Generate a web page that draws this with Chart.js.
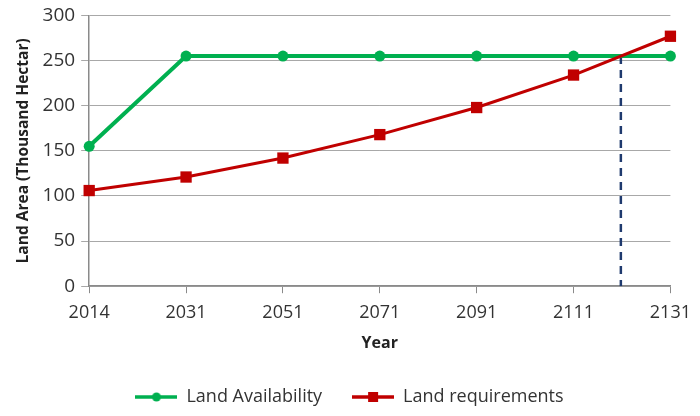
<!DOCTYPE html>
<html>
<head>
  <title>Land availability vs requirements</title>
  <script src="https://cdn.jsdelivr.net/npm/chart.js@4/dist/chart.umd.min.js"></script>
  <style>
    body { margin: 0; background: #fff; }
    #wrap { width: 700px; height: 416px; }
  </style>
</head>
<body>
  <div id="wrap"><canvas id="chartCanvas"></canvas></div>

  <script>
    const years = ['2014', '2031', '2051', '2071', '2091', '2111', '2131'];
    const availability = [155, 255, 255, 255, 255, 255, 255];
    const requirements = [106, 121, 142, 168, 198, 234, 277];
    const yTicks = [0, 50, 100, 150, 200, 250, 300];

    const GREEN = '#00b050';
    const RED = '#c00000';
    const NAVY = '#1f3a6e';

    // where requirements overtake availability (from the data)
    function crossing() {
      for (let i = 0; i < years.length - 1; i++) {
        const d0 = requirements[i] - availability[i];
        const d1 = requirements[i + 1] - availability[i + 1];
        if (d0 < 0 && d1 >= 0) {
          const t = -d0 / (d1 - d0);
          return { x: i + t, y: availability[i] + t * (availability[i + 1] - availability[i]) };
        }
      }
      return null;
    }
    const cross = crossing();

    function legendIcon(color, shape) {
      const c = document.createElement('canvas');
      c.width = 42; c.height = 14;
      const g = c.getContext('2d');
      g.strokeStyle = color;
      g.lineWidth = 3.5;
      g.beginPath(); g.moveTo(0, 7); g.lineTo(42, 7); g.stroke();
      g.fillStyle = color;
      if (shape === 'circle') {
        g.beginPath(); g.arc(21, 7, 4.5, 0, Math.PI * 2); g.fill();
      } else {
        g.fillRect(16, 2, 10, 10);
      }
      return c;
    }
    const icons = [legendIcon(GREEN, 'circle'), legendIcon(RED, 'rect')];

    const ctx = document.getElementById('chartCanvas').getContext('2d');
    new Chart(ctx, {
      type: 'line',
      data: {
        datasets: [
          {
            label: 'Land Availability',
            data: availability.map((v, i) => ({ x: i, y: v })),
            borderColor: GREEN,
            backgroundColor: GREEN,
            borderWidth: 4,
            pointStyle: 'circle',
            pointRadius: 5.5,
            pointBorderWidth: 0,
            pointHoverRadius: 5.5,
            clip: false,
            order: 2
          },
          {
            label: 'Land requirements',
            data: requirements.map((v, i) => ({ x: i, y: v })),
            borderColor: RED,
            backgroundColor: RED,
            borderWidth: 3,
            pointStyle: 'rect',
            pointRadius: 8,
            pointBorderWidth: 0,
            pointHoverRadius: 8,
            clip: false,
            order: 1
          },
          {
            label: 'crossing',
            data: cross ? [{ x: cross.x, y: cross.y }, { x: cross.x, y: 0 }] : [],
            borderColor: NAVY,
            borderWidth: 2.5,
            borderDash: [8, 6],
            pointRadius: 0,
            order: 3
          }
        ]
      },
      options: {
        responsive: true,
        maintainAspectRatio: false,
        animation: false,
        layout: { padding: { top: 4, right: 15, left: 14, bottom: 0 } },
        plugins: {
          tooltip: { enabled: false },
          legend: {
            position: 'bottom',
            labels: {
              usePointStyle: true,
              pointStyleWidth: 42,
              padding: 30,
              color: '#333',
              font: { family: 'Open Sans', size: 18 },
              filter: item => item.datasetIndex < 2,
              sort: (a, b) => a.datasetIndex - b.datasetIndex,
              generateLabels: chart => Chart.defaults.plugins.legend.labels.generateLabels(chart)
                .map(l => Object.assign(l, { pointStyle: icons[l.datasetIndex] || l.pointStyle }))
            }
          }
        },
        scales: {
          x: {
            type: 'linear',
            min: 0,
            max: years.length - 1,
            afterBuildTicks: axis => { axis.ticks = years.map((y, i) => ({ value: i })); },
            ticks: {
              callback: v => years[v],
              color: '#333',
              padding: 9,
              maxRotation: 0,
              font: { family: 'Open Sans', size: 18 }
            },
            grid: { drawOnChartArea: false, color: '#8a8a8a', tickLength: 7 },
            border: { color: '#8a8a8a', width: 1.5 },
            title: {
              display: true,
              text: 'Year',
              color: '#222',
              font: { family: 'Open Sans', size: 16, weight: 'bold' },
              padding: { top: 1, bottom: 5 }
            }
          },
          y: {
            min: 0,
            max: 300,
            afterBuildTicks: axis => { axis.ticks = yTicks.map(v => ({ value: v })); },
            ticks: {
              color: '#333',
              padding: 6,
              font: { family: 'Open Sans', size: 19, lineHeight: 1 }
            },
            grid: { color: '#a8a8a8', tickLength: 8 },
            border: { color: '#8a8a8a', width: 1.5 },
            title: {
              display: true,
              text: 'Land Area (Thousand Hectar)',
              color: '#222',
              font: { family: 'Open Sans', size: 15.5, weight: 'bold' },
              padding: { top: 0, bottom: 4 }
            }
          }
        }
      }
    });
  </script>
</body>
</html>
